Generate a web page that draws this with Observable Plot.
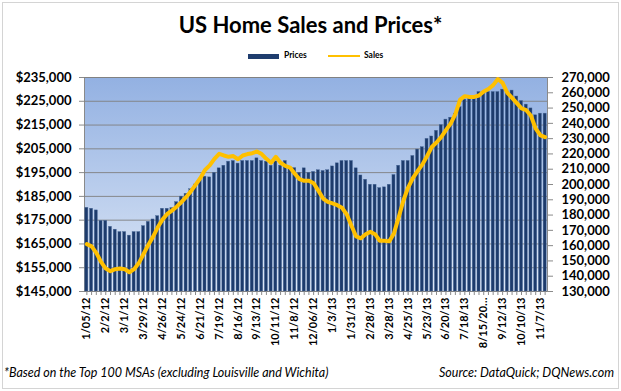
<!DOCTYPE html>
<html><head><meta charset="utf-8">
<script src="https://cdn.jsdelivr.net/npm/d3@7"></script>
<script src="https://cdn.jsdelivr.net/npm/@observablehq/plot@0.6"></script>
<style>
body{margin:0;background:#fff;font-family:Lato,"Open Sans",sans-serif;width:621px;height:391px;position:relative;overflow:hidden;}
#border{position:absolute;left:2px;top:2px;width:615px;height:385px;border:1px solid #d4d4d4;}
#title{position:absolute;top:12px;left:0;width:621px;text-align:center;font-weight:bold;font-size:22px;color:#000;line-height:26px;}
#legend{position:absolute;top:50px;left:0;width:621px;height:12px;font-size:8.5px;font-weight:bold;}
#plot{position:absolute;top:65px;left:0;}
.foot{position:absolute;top:365px;font-style:italic;font-size:12.5px;color:#000;}
</style></head>
<body>
<div id="border"></div>
<div id="title">US Home Sales and Prices*</div>
<div id="legend">
  <div style="position:absolute;left:248px;top:4px;width:31px;height:5px;background:#1f3d6e"></div>
  <div style="position:absolute;left:284px;top:0px;">Prices</div>
  <div style="position:absolute;left:328px;top:5px;width:32px;height:2px;background:#ffc000"></div>
  <div style="position:absolute;left:364px;top:0px;">Sales</div>
</div>
<div id="plot"></div>
<div class="foot" style="left:4px">*Based on the Top 100 MSAs (excluding Louisville and Wichita)</div>
<div class="foot" style="right:7px">Source: DataQuick; DQNews.com</div>
<script>
const tickLabels = ["1/05/12","2/2/12","3/1/12","3/29/12","4/26/12","5/24/12","6/21/12","7/19/12","8/16/12","9/13/12","10/11/12","11/8/12","12/06/12","1/3/13","1/31/13","2/28/13","3/28/13","4/25/13","5/23/13","6/20/13","7/18/13","8/15/20\u2026","9/12/13","10/10/13","11/7/13"];

const prices = [180200,179800,179100,174700,174700,172200,171000,170000,170000,168500,
170000,170000,172500,174300,175300,176700,179800,179800,180100,182600,
184900,186100,188000,190000,191800,193300,193000,194900,196800,197900,
199600,199900,198800,199900,199900,199900,201000,199900,199600,197900,
199700,197900,199900,196900,196900,194900,196800,194900,195300,196000,
195700,196000,197600,198900,199900,199900,199900,196800,193800,192000,
189900,189900,188500,188800,189900,194000,197900,199900,199900,202000,
204700,205700,209200,210200,212600,215000,217300,218100,219800,222500,
225700,226100,226100,228900,228200,228900,228900,228900,229900,228900,
229500,227000,225100,223600,222000,219100,219800,219800];

const sales = [161000,159500,155300,149400,145000,143300,144600,145000,144600,142600,
144600,148600,154500,160400,165800,172000,177000,180700,182900,185500,
188400,191700,195500,199800,204100,209500,212500,216800,220100,219000,
218100,218600,216500,219000,219900,220500,221600,219900,216800,214200,
218100,214200,212200,211100,207000,203500,202400,202400,200800,196000,
190800,188600,187600,186500,184800,180500,173000,166000,164800,167500,
169000,167500,163200,163200,162800,168000,178500,189500,198000,204200,
208800,213000,218500,224500,227500,231000,235500,239800,246000,255500,
257800,257300,257300,258200,260800,262500,265000,269000,266500,260000,
256700,253200,249800,248600,245000,236500,232200,231000];

const leftTicks = d3.range(145000, 235001, 10000);
const rightTicks = d3.range(130000, 270001, 10000);
const toPrice = s => 145000 + (s - 130000) * 90000 / 140000;
const fromPrice = p => 130000 + (p - 145000) * 140000 / 90000;

const data = prices.map((p, i) => ({i, price: p, sales: toPrice(sales[i])}));

const chart = Plot.plot({
  width: 621, height: 291,
  marginTop: 12, marginBottom: 65, marginLeft: 84, marginRight: 74,
  style: {fontFamily: "Lato, 'Open Sans', sans-serif", fontWeight: "bold", fontSize: "13px", color: "#000", background: "transparent"},
  x: {type: "band", domain: d3.range(prices.length), paddingInner: 0.36, paddingOuter: 0.18},
  y: {domain: [145000, 235000]},
  marks: [
    Plot.frame({fill: "url(#bg)", stroke: "#8a8a8a"}),
    Plot.gridY(leftTicks, {stroke: "#7f7f7f", strokeOpacity: 0.9, strokeWidth: 1}),
    Plot.barY(data, {x: "i", y1: 145000, y2: "price", fill: "#1d3b6c", stroke: "#4a6a9a", strokeWidth: 0.4}),
    Plot.line(data, {x: "i", y: "sales", stroke: "#ffc000", strokeWidth: 4, strokeLinejoin: "round", strokeLinecap: "round"}),
    Plot.axisY(leftTicks, {anchor: "left", tickSize: 5, tickPadding: 8, stroke: "#8a8a8a", tickFormat: d => "$" + d3.format(",")(d), fontSize: 13, fontWeight: "bold", label: null}),
    Plot.axisY(rightTicks.map(toPrice), {anchor: "right", tickSize: 5, tickPadding: 9, stroke: "#8a8a8a", tickFormat: d => d3.format(",")(Math.round(fromPrice(d))), fontSize: 13, fontWeight: "bold", textAnchor: "start", label: null}),
    Plot.axisX(d3.range(prices.length), {anchor: "bottom", tickSize: 4, tickPadding: 2, tickRotate: -90, stroke: "#8a8a8a", tickFormat: i => i % 4 === 0 ? tickLabels[i / 4] : "", fontSize: 11, fontWeight: "bold", label: null})
  ]
});

const svg = d3.select(chart);
const defs = svg.insert("defs", ":first-child");
const g = defs.append("linearGradient").attr("id", "bg").attr("x1", 0).attr("y1", 0).attr("x2", 0).attr("y2", 1);
g.append("stop").attr("offset", "0").attr("stop-color", "#93b1e2");
g.append("stop").attr("offset", "1").attr("stop-color", "#dde7f6");
document.getElementById("plot").appendChild(chart);
</script>
</body></html>
